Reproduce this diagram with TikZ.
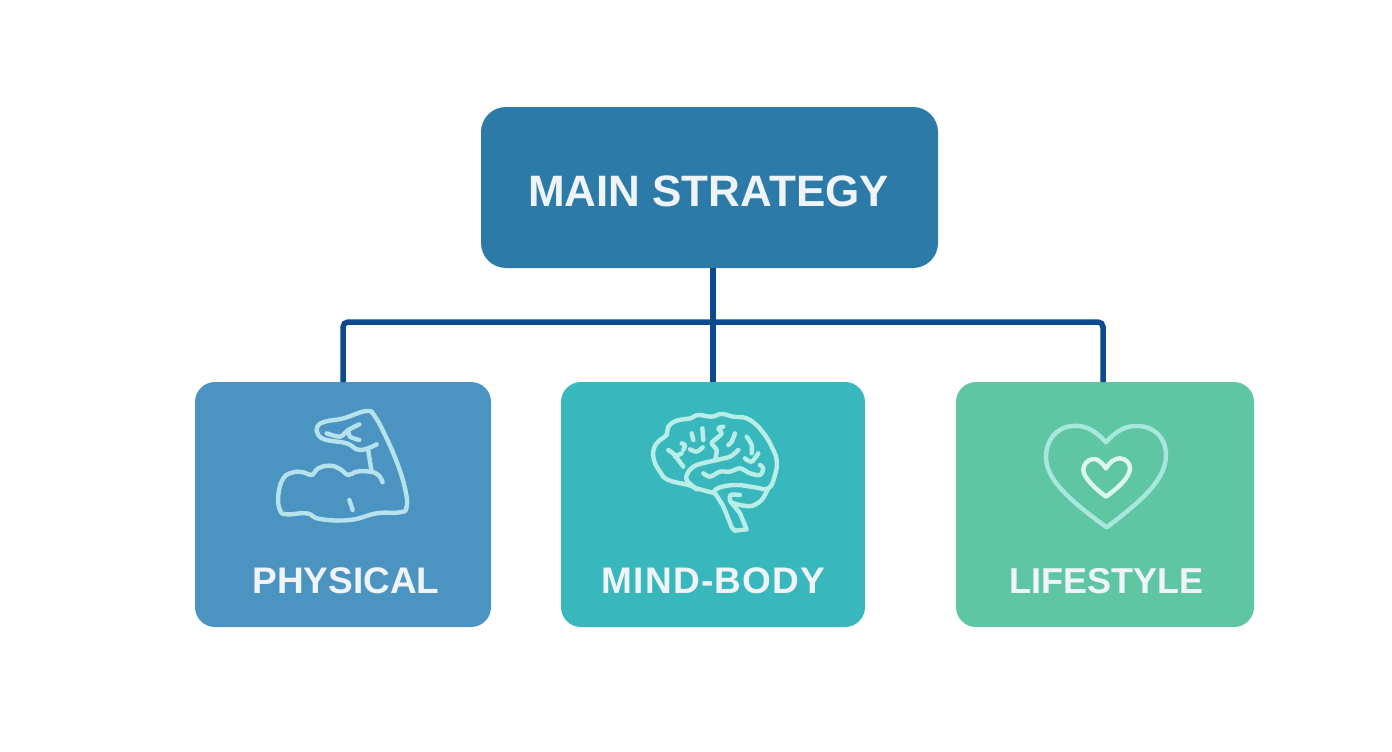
\documentclass[tikz,border=0pt]{standalone}
\usepackage{fontspec}
\setmainfont{Liberation Sans}
\definecolor{mainblue}{HTML}{2B7AA8}
\definecolor{physblue}{HTML}{4B93C1}
\definecolor{mindteal}{HTML}{38B8BC}
\definecolor{lifegreen}{HTML}{5FC6A3}
\definecolor{linkblue}{HTML}{0B4A8C}
\definecolor{labelwhite}{HTML}{EEF4F8}
\definecolor{armline}{HTML}{B5E2EC}
\definecolor{brainline}{HTML}{B8EDE8}
\definecolor{heartline}{HTML}{A8E8DC}
\definecolor{heartinner}{HTML}{DDF6EF}
\begin{document}
\begin{tikzpicture}[x=1pt,y=-1pt,
	box/.style={inner sep=0pt,outer sep=0pt,rounded corners=20pt,minimum height=245pt},
	boxlabel/.style={text=labelwhite,font=\fontsize{37}{37}\selectfont\bfseries},
	link/.style={draw=linkblue,line width=5.5pt},
	icon/.style={line width=4.4pt,line cap=round,line join=round}]
	\useasboundingbox (0,0) rectangle (1392,752);
	\node[box,fill=mainblue,minimum width=457pt,minimum height=161pt,rounded corners=25pt] (main) at (709.5,187.5) {};
	\node[text=labelwhite,font=\fontsize{44}{44}\selectfont\bfseries] (maintext) at (708.5,191) {MAIN STRATEGY};
	\node[box,fill=physblue,minimum width=296pt] (physical) at (343,504.5) {};
	\node[box,fill=mindteal,minimum width=304pt] (mind) at (713,504.5) {};
	\node[box,fill=lifegreen,minimum width=298pt] (lifestyle) at (1105,504.5) {};
	\node[boxlabel] (physicaltext) at (346,581) {PHYSICAL};
	\node[boxlabel] (mindtext) at (713.5,581) {\addfontfeature{LetterSpace=3.6}MIND-BODY};
	\node[boxlabel,font=\fontsize{36}{36}\selectfont\bfseries] (lifestyletext) at (1106,581) {LIFESTYLE};
	% connectors
	\coordinate (bus) at (713,322);
	\draw[link] (main.south -| mind.north) -- (mind.north);
	\draw[link,rounded corners=5pt] (physical.north) |- (bus) -| ([xshift=-2pt]lifestyle.north);
	% arm
	\begin{scope}[shift={(260,395)},x=0.3333pt,y=-0.3333pt,icon,draw=armline]
		\draw plot[smooth,tension=0.75] coordinates {(368,262) (355,240) (330,230) (290,230) (265,240) (240,222) (210,212) (175,220) (155,240) (130,232) (100,232) (70,250) (55,300) (60,345) (80,358) (140,355) (180,372) (270,375) (350,355) (420,352) (440,335) (435,280) (410,200) (375,120) (345,65) (320,48) (250,70) (195,80) (172,95) (175,120) (200,135) (260,145) (300,165) (350,148)};
		\draw (335,230) -- (325,168);
		\draw plot[smooth] coordinates {(200,115) (240,125) (265,105) (298,88)};
		\draw plot[smooth] coordinates {(265,105) (270,125) (298,135)};
		\draw (268,315) -- (278,345);
	\end{scope}
	% brain
	\begin{scope}[shift={(640,400)},x=0.3333pt,y=-0.3333pt,icon,draw=brainline]
		\draw plot[smooth,tension=0.75] coordinates {(225,280) (170,265) (145,255) (85,240) (60,215) (42,180) (42,145) (60,120) (80,105) (85,80) (110,62) (150,55) (175,45) (215,50) (245,42) (280,50) (320,55) (355,80) (375,105) (395,140) (410,180) (405,225) (385,265) (345,262) (290,255) (240,262) (222,275)};
		\draw plot[smooth] coordinates {(385,265) (365,300) (335,318) (300,315) (272,305) (272,285) (300,285)};
		\draw plot[smooth,tension=0.5] coordinates {(225,280) (250,320) (275,382)} -- (285,392) -- (320,388) -- (300,340) -- (272,305);
		\draw plot[smooth] coordinates {(170,268) (140,240) (145,215) (170,195) (230,180) (270,170) (295,150)};
		\draw plot[smooth] coordinates {(190,220) (210,230) (240,215) (270,215) (300,205) (330,220) (360,225) (370,205) (360,195)};
		\draw plot[smooth] coordinates {(250,80) (235,85) (245,100) (230,115) (215,130) (230,150) (225,180)};
		\draw plot[smooth] coordinates {(85,150) (105,165) (115,180) (130,200)};
		\draw (105,170) -- (125,160);
		\draw plot[smooth] coordinates {(125,130) (135,135) (130,150)};
		\draw (155,100) -- (160,120);
		\draw (187,85) -- (190,120);
		\draw plot[smooth] coordinates {(150,148) (170,155) (188,142)};
		\draw plot[smooth] coordinates {(285,100) (275,125) (265,135)};
		\draw plot[smooth] coordinates {(320,110) (335,135) (335,160)};
		\draw plot[smooth] coordinates {(315,175) (335,185) (355,160)};
	\end{scope}
	% heart
	\begin{scope}[shift={(1030,410)},x=0.3333pt,y=-0.3333pt,icon]
		\draw[heartline] (228,97) .. controls (190,55) and (160,45) .. (128,48) .. controls (75,52) and (48,95) .. (48,140) .. controls (48,205) and (110,265) .. (230,352) .. controls (345,265) and (408,205) .. (408,135) .. controls (408,85) and (375,50) .. (325,48) .. controls (290,46) and (260,60) .. (228,97);
		\draw[heartinner] (228,175) .. controls (215,155) and (200,145) .. (188,147) .. controls (170,150) and (160,165) .. (160,180) .. controls (162,205) and (195,235) .. (228,260) .. controls (262,235) and (298,205) .. (300,175) .. controls (300,160) and (288,146) .. (270,145) .. controls (255,145) and (240,155) .. (228,175);
	\end{scope}
\end{tikzpicture}
\end{document}
